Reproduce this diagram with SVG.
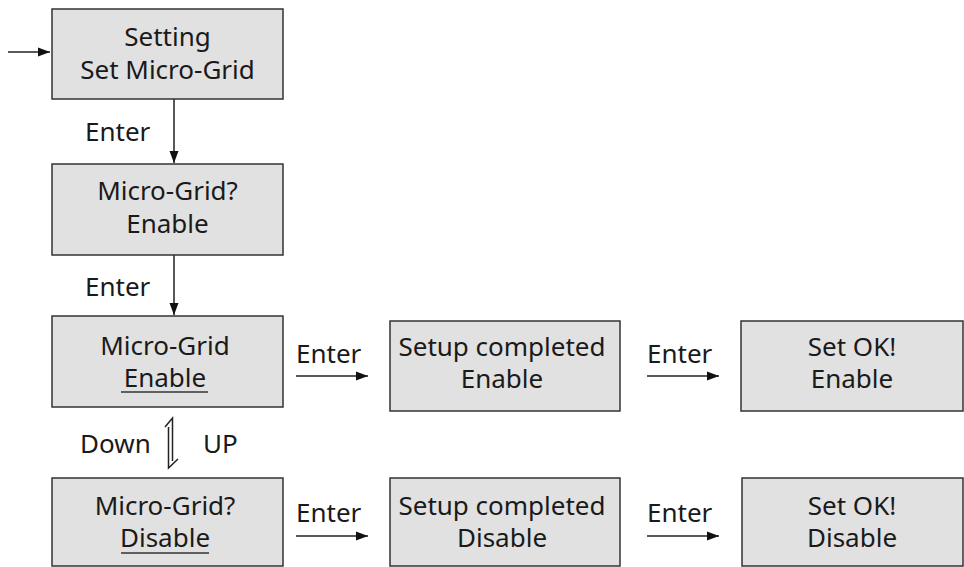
<svg xmlns="http://www.w3.org/2000/svg" width="964" height="567" viewBox="0 0 964 567">
<defs>
<style>
.box{fill:#e1e1e1;stroke:#333;stroke-width:1.5}
.t{font-family:"Noto Sans","Liberation Sans",sans-serif;font-size:26px;fill:#1a1a1a}
.c{text-anchor:middle}
.ln{stroke:#222;stroke-width:1.5;fill:none}
.ul{stroke:#333;stroke-width:1.3}
</style>
<marker id="ah" viewBox="0 0 12 10" refX="12" refY="5" markerWidth="12" markerHeight="10" markerUnits="userSpaceOnUse" orient="auto">
<path d="M0,0.5 L12,5 L0,9.5 Z" fill="#111"/>
</marker>
</defs>
<rect width="964" height="567" fill="#fff"/>
<g id="connectors">
<line class="ln" x1="8" y1="52" x2="50" y2="52" marker-end="url(#ah)"/>
<line class="ln" x1="174" y1="99" x2="174" y2="163" marker-end="url(#ah)"/>
<line class="ln" x1="174" y1="255" x2="174" y2="315" marker-end="url(#ah)"/>
<line class="ln" x1="296" y1="376" x2="368" y2="376" marker-end="url(#ah)"/>
<line class="ln" x1="647" y1="376" x2="719" y2="376" marker-end="url(#ah)"/>
<line class="ln" x1="296" y1="536" x2="368" y2="536" marker-end="url(#ah)"/>
<line class="ln" x1="647" y1="536" x2="719" y2="536" marker-end="url(#ah)"/>
<path class="ln" d="M168.5,427 V468 L178,459 M172.5,461 V418 L165,427"/>
<text class="t" x="85" y="141">Enter</text>
<text class="t" x="85" y="296">Enter</text>
<text class="t" x="296" y="363">Enter</text>
<text class="t" x="647" y="363">Enter</text>
<text class="t" x="296" y="522">Enter</text>
<text class="t" x="647" y="522">Enter</text>
<text class="t" x="80" y="453">Down</text>
<text class="t" x="203" y="453">UP</text>
</g>
<g id="n1">
<rect class="box" x="52" y="9" width="231" height="90"/>
<text class="t c" x="167.5" y="46">Setting</text>
<text class="t c" x="167.5" y="79">Set Micro-Grid</text>
</g>
<g id="n2">
<rect class="box" x="52" y="164" width="231" height="91"/>
<text class="t c" x="167.5" y="200">Micro-Grid?</text>
<text class="t c" x="167.5" y="233">Enable</text>
</g>
<g id="n3">
<rect class="box" x="52" y="316" width="231" height="91"/>
<text class="t c" x="165" y="355">Micro-Grid</text>
<text class="t c" x="165" y="387">Enable</text>
<line class="ul" x1="121" y1="392" x2="208" y2="392"/>
</g>
<g id="n4">
<rect class="box" x="390" y="321" width="230" height="90"/>
<text class="t c" x="502" y="356">Setup completed</text>
<text class="t c" x="502" y="388">Enable</text>
</g>
<g id="n5">
<rect class="box" x="741" y="321" width="222" height="90"/>
<text class="t c" x="852" y="356">Set OK!</text>
<text class="t c" x="852" y="388">Enable</text>
</g>
<g id="n6">
<rect class="box" x="52" y="478" width="231" height="88"/>
<text class="t c" x="165" y="515">Micro-Grid?</text>
<text class="t c" x="165" y="547">Disable</text>
<line class="ul" x1="121" y1="553" x2="209" y2="553"/>
</g>
<g id="n7">
<rect class="box" x="390" y="478" width="230" height="88"/>
<text class="t c" x="502" y="515">Setup completed</text>
<text class="t c" x="502" y="547">Disable</text>
</g>
<g id="n8">
<rect class="box" x="742" y="478" width="221" height="88"/>
<text class="t c" x="852" y="515">Set OK!</text>
<text class="t c" x="852" y="547">Disable</text>
</g>
</svg>
